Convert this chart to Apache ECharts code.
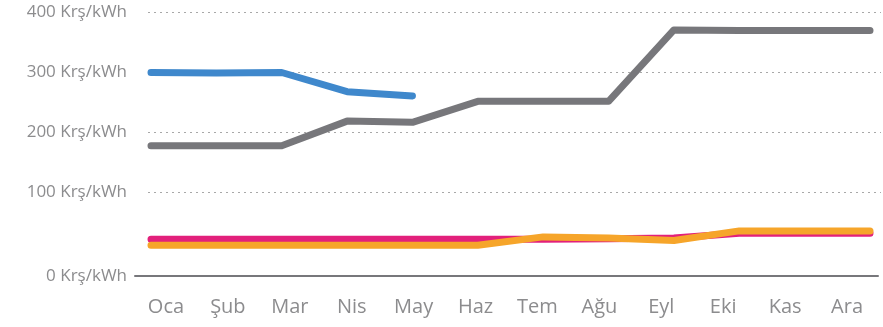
<!DOCTYPE html>
<html>
<head>
<meta charset="utf-8">
<script src="https://cdn.jsdelivr.net/npm/echarts@6/dist/echarts.min.js"></script>
<style>
  html, body { margin: 0; padding: 0; background: #ffffff; }
  #chart { width: 883px; height: 327px; }
</style>
</head>
<body>
<div id="chart"></div>
<script>
// Months (Turkish abbreviations) and the value axis ticks
const months = ['Oca', 'Şub', 'Mar', 'Nis', 'May', 'Haz', 'Tem', 'Ağu', 'Eyl', 'Eki', 'Kas', 'Ara'];
const yTicks = [0, 100, 200, 300, 400];
const unit = 'Krş/kWh';

// Price series, Krş/kWh
const grayValues   = [178, 178, 178, 219, 217, 252, 252, 252, 371, 370, 370, 370];
const blueValues   = [300, 299, 300, 268, 261];
const pinkValues   = [22, 22, 22, 22, 22, 22, 22, 23, 24, 32, 32, 32];
const orangeValues = [12, 12, 12, 12, 12, 12, 26, 24, 20, 36, 36, 36];

const FONT = '"Open Sans", "DejaVu Sans", sans-serif';
const TEXT_COLOR = '#8c8c8e';
const yMin = yTicks[0];
const yMax = yTicks[yTicks.length - 1];
const yStep = yTicks[1] - yTicks[0];

function line(name, values, color) {
  return {
    name: name,
    type: 'line',
    xAxisIndex: 0,
    yAxisIndex: 0,
    data: values,
    symbol: 'none',
    silent: true,
    lineStyle: { color: color, width: 7, cap: 'round', join: 'round' }
  };
}

const chart = echarts.init(document.getElementById('chart'), null, { renderer: 'canvas' });

chart.setOption({
  animation: false,
  backgroundColor: '#ffffff',
  grid: [
    // plotting area for the lines
    { left: 151, right: 13, top: 12.5, height: 240 },
    // value axis labels and dotted guides
    { left: 148, right: 2, top: 12.5, height: 240 },
    // month labels and baseline
    { left: 135, right: 5, top: 12.5, bottom: 51 }
  ],
  xAxis: [
    { gridIndex: 0, type: 'category', data: months, boundaryGap: false, show: false },
    { gridIndex: 1, type: 'category', data: months, show: false },
    {
      gridIndex: 2, type: 'category', data: months, boundaryGap: true,
      axisLine: { show: true, lineStyle: { color: '#77777b', width: 2 } },
      axisTick: { show: false },
      splitLine: { show: false },
      axisLabel: { color: TEXT_COLOR, fontFamily: FONT, fontSize: 20, margin: 21 }
    }
  ],
  yAxis: [
    { gridIndex: 0, type: 'value', min: yMin, max: yMax, show: false },
    {
      gridIndex: 1, type: 'value', min: yMin, max: yMax, interval: yStep,
      axisLine: { show: false },
      axisTick: { show: false },
      splitLine: {
        show: true, showMinLine: false,
        lineStyle: { color: '#a8a8a8', width: 1, type: [2, 4] }
      },
      axisLabel: {
        color: TEXT_COLOR, fontFamily: FONT, fontSize: 17, margin: 21,
        formatter: function (v) {
          return v === yMin ? '{z|' + v + ' ' + unit + '}' : v + ' ' + unit;
        },
        rich: {
          z: { color: TEXT_COLOR, fontFamily: FONT, fontSize: 17, padding: [47, 0, 0, 0] }
        }
      }
    },
    { gridIndex: 2, type: 'value', show: false }
  ],
  series: [
    line('Gri', grayValues, '#77777b'),
    line('Mavi', blueValues, '#3f88cc'),
    line('Pembe', pinkValues, '#e2207b'),
    line('Turuncu', orangeValues, '#f6a52a')
  ]
});
</script>
</body>
</html>
